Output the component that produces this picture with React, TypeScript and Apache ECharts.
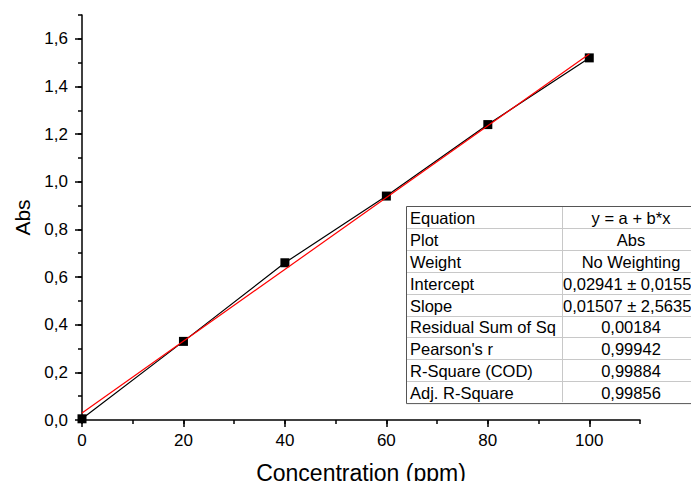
import React, { useEffect, useRef } from "react";
import * as echarts from "echarts";

// ---- data ----
const concentration = [0, 20, 40, 60, 80, 100];
const absorbance = [0.005, 0.33, 0.66, 0.94, 1.24, 1.52];
const fitX = [0, 100];
const fitY = [0.0294, 1.5365];
const xMajorTicks = [0, 20, 40, 60, 80, 100];
const yMajorTicks = [0, 0.2, 0.4, 0.6, 0.8, 1.0, 1.2, 1.4, 1.6];
const tableLabels = [
  "Equation",
  "Plot",
  "Weight",
  "Intercept",
  "Slope",
  "Residual Sum of Sq",
  "Pearson's r",
  "R-Square (COD)",
  "Adj. R-Square",
];
// as visible in the reference (the right column runs past the picture's edge)
const tableValues = [
  "y = a + b*x",
  "Abs",
  "No Weighting",
  "0,02941 ± 0,0155",
  "0,01507 ± 2,5635",
  "0,00184",
  "0,99942",
  "0,99884",
  "0,99856",
];
const tableValueOverflow = [false, false, false, true, true, false, false, false, false];

const FONT = '"Liberation Sans", Arial, sans-serif';

export default function App() {
  const ref = useRef<HTMLDivElement>(null);

  useEffect(() => {
    document.body.style.margin = "0";
    if (!ref.current) return;
    const chart = echarts.init(ref.current, undefined, { renderer: "svg" });

    const fmt = (v: number) => v.toFixed(1).replace(".", ",");

    // table geometry
    const tLeft = 406;
    const tTop = 206;
    const rowH = 21.9;
    const tRight = 700;
    const tDiv = 562;
    const nRows = tableLabels.length;
    const tBottom = tTop + rowH * nRows;
    const valCenter = 631;
    const tFont = `16.5px ${FONT}`;

    const graphics: any[] = [
      {
        type: "rect",
        shape: { x: tLeft + 0.5, y: tTop + 0.5, width: tRight - tLeft, height: tBottom - tTop },
        style: { fill: "#ffffff", stroke: "#555555", lineWidth: 1 },
        z: 10,
      },
    ];
    for (let k = 1; k < nRows; k++) {
      const y = Math.round(tTop + k * rowH) + 0.5;
      graphics.push({
        type: "line",
        shape: { x1: tLeft + 1, y1: y, x2: tRight, y2: y },
        style: { stroke: "#c8c8c8", lineWidth: 1 },
        z: 11,
      });
    }
    graphics.push({
      type: "line",
      shape: { x1: tDiv + 0.5, y1: tTop + 1, x2: tDiv + 0.5, y2: tBottom - 1 },
      style: { stroke: "#c8c8c8", lineWidth: 1 },
      z: 11,
    });
    tableLabels.forEach((lab, k) => {
      const cy = tTop + (k + 0.5) * rowH + 1;
      graphics.push({
        type: "text",
        x: tLeft + 4,
        y: cy,
        style: {
          text: lab,
          fill: "#000",
          font: tFont,
          align: "left",
          verticalAlign: "middle",
          textAlign: "left",
          textVerticalAlign: "middle",
        },
        z: 12,
      });
      const over = tableValueOverflow[k];
      graphics.push({
        type: "text",
        x: over ? tDiv + 1 : valCenter,
        y: cy,
        style: {
          text: tableValues[k],
          fill: "#000",
          font: tFont,
          align: over ? "left" : "center",
          verticalAlign: "middle",
          textAlign: over ? "left" : "center",
          textVerticalAlign: "middle",
        },
        z: 12,
      });
    });

    const option: any = {
      animation: false,
      backgroundColor: "#ffffff",
      textStyle: { fontFamily: FONT },
      grid: {
        left: 82,
        right: 51,
        top: 15,
        bottom: 61,
        containLabel: false,
        outerBoundsMode: "none",
      },
      xAxis: [
        {
          type: "value",
          min: 0,
          max: 110,
          interval: 10,
          position: "bottom",
          axisLine: { show: true, onZero: false, lineStyle: { color: "#000", width: 1.5 } },
          axisTick: { show: true, length: 4, lineStyle: { color: "#000", width: 1.5 } },
          axisLabel: { show: false },
          splitLine: { show: false },
        },
        {
          type: "value",
          min: 0,
          max: 110,
          interval: 20,
          position: "bottom",
          axisLine: { show: false, onZero: false },
          axisTick: {
            show: true,
            length: 7,
            customValues: xMajorTicks,
            lineStyle: { color: "#000", width: 1.5 },
          },
          axisLabel: {
            show: true,
            customValues: xMajorTicks,
            margin: 12,
            fontSize: 17,
            color: "#000",
            fontFamily: FONT,
          },
          splitLine: { show: false },
          name: "Concentration (ppm)",
          nameLocation: "middle",
          nameGap: 41,
          nameTextStyle: { fontSize: 23, color: "#000", fontFamily: FONT },
        },
      ],
      yAxis: [
        {
          type: "value",
          min: 0,
          max: 1.7,
          interval: 0.1,
          position: "left",
          axisLine: { show: true, onZero: false, lineStyle: { color: "#000", width: 1.5 } },
          axisTick: { show: true, length: 4, lineStyle: { color: "#000", width: 1.5 } },
          axisLabel: { show: false },
          splitLine: { show: false },
        },
        {
          type: "value",
          min: 0,
          max: 1.7,
          interval: 0.2,
          position: "left",
          axisLine: { show: false, onZero: false },
          axisTick: {
            show: true,
            length: 7,
            customValues: yMajorTicks,
            lineStyle: { color: "#000", width: 1.5 },
          },
          axisLabel: {
            show: true,
            customValues: yMajorTicks,
            margin: 14,
            fontSize: 17,
            color: "#000",
            fontFamily: FONT,
            formatter: (v: number) => fmt(v),
          },
          splitLine: { show: false },
          name: "Abs",
          nameLocation: "middle",
          nameGap: 48,
          nameTextStyle: { fontSize: 21, color: "#000", fontFamily: FONT },
        },
      ],
      series: [
        {
          type: "line",
          name: "Abs",
          xAxisIndex: 0,
          yAxisIndex: 0,
          data: concentration.map((x, i) => [x, absorbance[i]]),
          symbol: "rect",
          symbolSize: 9,
          itemStyle: { color: "#000" },
          lineStyle: { color: "#000", width: 1.2 },
          clip: true,
          z: 3,
        },
        {
          type: "line",
          name: "Fit",
          xAxisIndex: 0,
          yAxisIndex: 0,
          data: fitX.map((x, i) => [x, fitY[i]]),
          symbol: "none",
          lineStyle: { color: "#ff0000", width: 1.2 },
          z: 4,
        },
      ],
      graphic: graphics,
    };

    chart.setOption(option);
    return () => chart.dispose();
  }, []);

  return (
    <div
      ref={ref}
      style={{ position: "fixed", left: 0, top: 0, width: 691, height: 481, background: "#fff" }}
    />
  );
}
